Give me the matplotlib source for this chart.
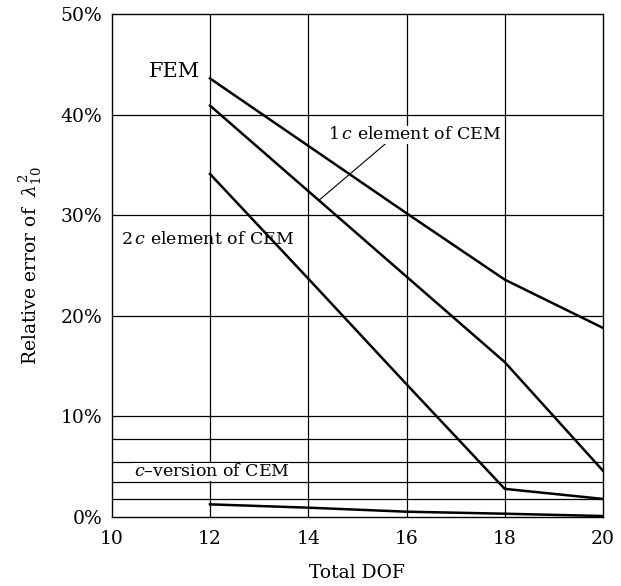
import matplotlib.pyplot as plt

plt.rcParams['font.family'] = ['DejaVu Serif']
plt.rcParams['mathtext.fontset'] = 'dejavuserif'

dof = [12, 14, 16, 18, 20]
fem = [43.6, 36.9, 30.2, 23.6, 18.8]
cem_1c = [40.9, 32.4, 23.9, 15.4, 4.6]
cem_2c = [34.1, 23.7, 13.2, 2.8, 1.8]
cem_cver = [1.26, 0.93, 0.53, 0.33, 0.1]

xticks = [10, 12, 14, 16, 18, 20]
yticks = [0, 10, 20, 30, 40, 50]
extra_grid = [1.8, 3.5, 5.5, 7.8]

fig = plt.figure(figsize=(6.21, 5.86), dpi=100)
ax = fig.add_axes([0.180, 0.1177, 0.791, 0.8583])

# grid
for x in xticks[1:-1]:
    ax.axvline(x, color="black", lw=0.9, zorder=1)
for y in yticks[1:-1] + extra_grid:
    ax.axhline(y, color="black", lw=0.9, zorder=1)

for s in [fem, cem_1c, cem_2c, cem_cver]:
    ax.plot(dof, s, color="black", lw=1.8, zorder=3)

ax.set_xlim(10, 20)
ax.set_ylim(0, 50)
ax.set_xticks(xticks)
ax.set_yticks(yticks)
ax.set_yticklabels([f"{v}%" for v in yticks])
ax.tick_params(length=0, labelsize=13.5)
ax.tick_params(axis="y", pad=7)
ax.tick_params(axis="x", pad=9)
for sp in ax.spines.values():
    sp.set_linewidth(1.0)

ax.set_xlabel("Total DOF", fontsize=13.5, labelpad=12)
ax.set_ylabel(r"Relative error of $\ \lambda_{10}^{2}$", fontsize=13.5, labelpad=12)

# annotations
ax.text(11.8, 44.3, "FEM", fontsize=15, ha="right", va="center")
ax.text(14.4, 38.0, r"1$\,c$ element of CEM", fontsize=12.5, ha="left", va="center",
        zorder=5, bbox=dict(facecolor="white", edgecolor="none", pad=0.5))
ax.plot([15.57, 14.22], [37.1, 31.5], color="black", lw=0.8, zorder=4)
ax.text(10.19, 27.6, r"2$\,c$ element of CEM", fontsize=12.5, ha="left", va="center",
        zorder=5)
ax.text(10.45, 4.5, r"$c$–version of CEM", fontsize=12.5, ha="left", va="center",
        zorder=5, bbox=dict(facecolor="white", edgecolor="none", pad=0.5))

fig.savefig("out.png", dpi=100)
